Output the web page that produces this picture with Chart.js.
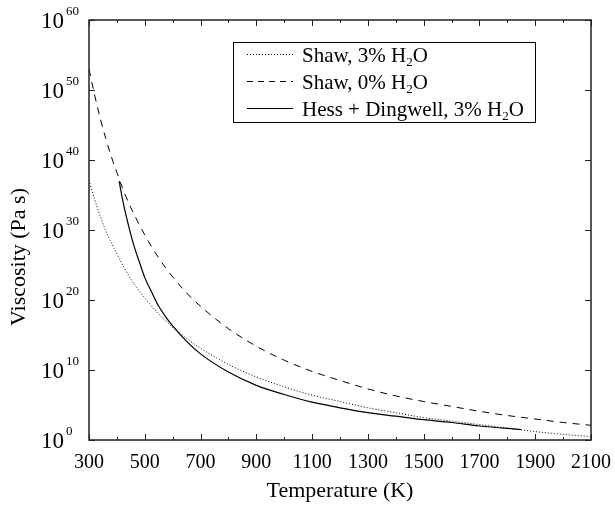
<!DOCTYPE html>
<html>
<head>
<meta charset="utf-8">
<script src="https://cdn.jsdelivr.net/npm/chart.js@4/dist/chart.umd.min.js"></script>
<style>
  html, body { margin: 0; padding: 0; background: #fff; }
  #wrap { width: 615px; height: 505px; }
</style>
</head>
<body>
<div id="wrap"><canvas id="viscosityChart" width="615" height="505"></canvas></div>
<script>
// temperatures (K) for the two Shaw curves
const shawTemps = [300, 320, 340, 360, 380, 400, 425, 450, 500, 550, 600, 650, 700, 800, 900,
                   1000, 1100, 1200, 1300, 1400, 1500, 1600, 1700, 1800, 1900, 2000, 2100];
// log10 viscosity (Pa s)
const shawWet = [37.1, 34.4, 32.0, 29.9, 28.2, 26.6, 24.7, 23.0, 20.3, 18.0, 16.1, 14.5, 13.1, 10.8, 9.0,
                 7.6, 6.4, 5.5, 4.6, 3.9, 3.2, 2.7, 2.2, 1.7, 1.2, 0.8, 0.5];
const shawDry = [53.0, 49.3, 46.0, 43.1, 40.5, 38.2, 35.5, 33.2, 29.3, 26.0, 23.3, 21.0, 19.1, 15.9, 13.4,
                 11.4, 9.8, 8.5, 7.3, 6.3, 5.5, 4.8, 4.1, 3.5, 3.0, 2.5, 2.1];
// Hess + Dingwell curve
const hdTemps = [408, 420, 440, 460, 480, 500, 525, 550, 575, 600, 650, 700, 800, 900,
                 1000, 1100, 1200, 1300, 1400, 1500, 1600, 1700, 1850];
const hessDingwell = [37.0, 34.4, 30.9, 27.9, 25.5, 23.2, 21.1, 19.1, 17.6, 16.3, 14.1, 12.3, 9.7, 7.8,
                      6.5, 5.4, 4.6, 3.9, 3.4, 2.9, 2.5, 2.0, 1.5];

const yExponents = [0, 10, 20, 30, 40, 50, 60];
const xLabels = [300, 500, 700, 900, 1100, 1300, 1500, 1700, 1900, 2100];

const serif = '"Liberation Serif", "DejaVu Serif", serif';

function toPoints(xs, ys) {
    return xs.map((t, i) => ({ x: t, y: Math.pow(10, ys[i]) }));
}

// frame, inward ticks, 10^n labels and the y title
const axesPlugin = {
    id: 'axesFrame',
    afterDraw(chart) {
        const { ctx, chartArea: a, scales: { x, y } } = chart;
        ctx.save();
        ctx.strokeStyle = '#222';
        ctx.lineWidth = 1.5;
        ctx.strokeRect(a.left, a.top, a.right - a.left, a.bottom - a.top);

        ctx.lineWidth = 1;
        ctx.beginPath();
        for (let t = 300; t <= 2100; t += 100) {
            const px = Math.round(x.getPixelForValue(t)) + 0.5;
            const len = (t - 300) % 200 === 0 ? 6 : 3;
            ctx.moveTo(px, a.bottom); ctx.lineTo(px, a.bottom - len);
            ctx.moveTo(px, a.top); ctx.lineTo(px, a.top + len);
        }
        yExponents.forEach(e => {
            const py = Math.round(y.getPixelForValue(Math.pow(10, e))) + 0.5;
            ctx.moveTo(a.left, py); ctx.lineTo(a.left + 6, py);
            ctx.moveTo(a.right, py); ctx.lineTo(a.right - 6, py);
        });
        ctx.stroke();

        ctx.fillStyle = '#000';
        yExponents.forEach(e => {
            const py = y.getPixelForValue(Math.pow(10, e));
            ctx.font = '23px ' + serif;
            ctx.textAlign = 'right';
            ctx.textBaseline = 'middle';
            ctx.fillText('10', 64, py + 2);
            ctx.font = '13px ' + serif;
            ctx.textAlign = 'left';
            ctx.fillText(String(e), 66, py - 8);
        });

        // y title sits below the middle of the axis in the original
        ctx.translate(19, 257);
        ctx.rotate(-Math.PI / 2);
        ctx.font = '22px ' + serif;
        ctx.textAlign = 'center';
        ctx.textBaseline = 'middle';
        ctx.fillText('Viscosity (Pa s)', 0, 0);
        ctx.restore();
    }
};

// boxed legend with subscripts
const legendPlugin = {
    id: 'boxLegend',
    afterDraw(chart) {
        const { ctx } = chart;
        const rows = [
            { pre: 'Shaw, 3% H', dash: [1, 2], width: 1 },
            { pre: 'Shaw, 0% H', dash: [6, 5], width: 1 },
            { pre: 'Hess + Dingwell, 3% H', dash: [], width: 1 }
        ];
        ctx.save();
        ctx.fillStyle = '#fff';
        ctx.fillRect(233, 42, 302, 80);
        ctx.strokeStyle = '#000';
        ctx.lineWidth = 1;
        ctx.strokeRect(233.5, 42.5, 302, 80);
        rows.forEach((r, i) => {
            const ly = 54 + i * 27;
            ctx.setLineDash(r.dash);
            ctx.lineWidth = r.width;
            ctx.beginPath();
            ctx.moveTo(247, ly + 0.5);
            ctx.lineTo(293, ly + 0.5);
            ctx.stroke();
            ctx.setLineDash([]);
            ctx.fillStyle = '#000';
            ctx.textBaseline = 'middle';
            ctx.textAlign = 'left';
            ctx.font = '21px ' + serif;
            let tx = 302;
            ctx.fillText(r.pre, tx, ly + 2);
            tx += ctx.measureText(r.pre).width;
            ctx.font = '13px ' + serif;
            ctx.fillText('2', tx, ly + 9);
            tx += ctx.measureText('2').width;
            ctx.font = '21px ' + serif;
            ctx.fillText('O', tx, ly + 2);
        });
        ctx.restore();
    }
};

const config = {
    type: 'line',
    data: {
        datasets: [
            {
                label: 'Shaw, 3% H2O',
                data: toPoints(shawTemps, shawWet),
                borderColor: '#000',
                borderWidth: 1,
                borderDash: [1, 2],
                pointRadius: 0,
                cubicInterpolationMode: 'monotone'
            },
            {
                label: 'Shaw, 0% H2O',
                data: toPoints(shawTemps, shawDry),
                borderColor: '#000',
                borderWidth: 1,
                borderDash: [7, 6],
                pointRadius: 0,
                cubicInterpolationMode: 'monotone'
            },
            {
                label: 'Hess + Dingwell, 3% H2O',
                data: toPoints(hdTemps, hessDingwell),
                borderColor: '#000',
                borderWidth: 1.2,
                pointRadius: 0,
                cubicInterpolationMode: 'monotone'
            }
        ]
    },
    options: {
        responsive: false,
        animation: false,
        layout: { padding: { left: 0, right: 24, top: 20, bottom: 0 } },
        plugins: {
            legend: { display: false },
            tooltip: { enabled: false }
        },
        scales: {
            x: {
                type: 'linear',
                min: 300,
                max: 2100,
                afterBuildTicks: s => { s.ticks = xLabels.map(v => ({ value: v })); },
                afterFit: s => { s.height = 65; s.paddingLeft = 0; s.paddingRight = 0; },
                grid: { display: false, drawTicks: false, tickLength: 0 },
                border: { display: false },
                ticks: {
                    color: '#000',
                    font: { family: serif, size: 20 },
                    padding: 11,
                    maxRotation: 0,
                    autoSkip: false,
                    callback: v => String(v)
                },
                title: {
                    display: true,
                    text: 'Temperature (K)',
                    color: '#000',
                    font: { family: serif, size: 22 },
                    padding: { bottom: 1 }
                }
            },
            y: {
                type: 'logarithmic',
                min: 1,
                max: 1e60,
                afterBuildTicks: s => { s.ticks = yExponents.map(e => ({ value: Math.pow(10, e) })); },
                afterFit: s => { s.width = 89; s.paddingTop = 0; s.paddingBottom = 0; },
                grid: { display: false, drawTicks: false, tickLength: 0 },
                border: { display: false },
                ticks: { callback: () => '' },
                title: { display: false }
            }
        }
    },
    plugins: [axesPlugin, legendPlugin]
};

new Chart(document.getElementById('viscosityChart'), config);
</script>
</body>
</html>
